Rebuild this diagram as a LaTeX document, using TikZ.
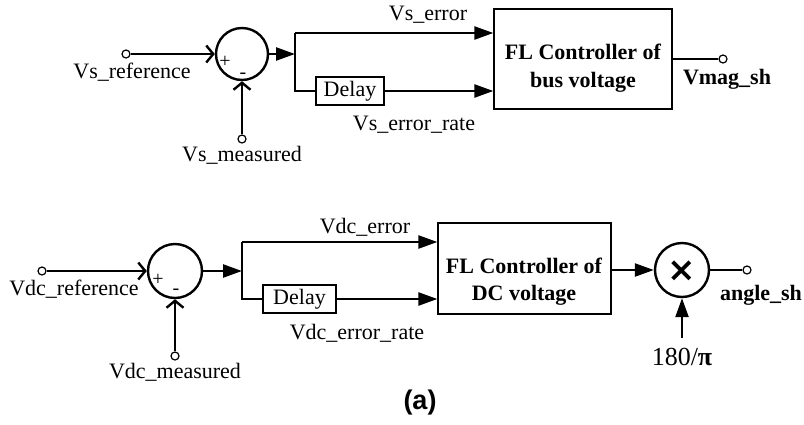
\documentclass[tikz,border=0pt]{standalone}
\usepackage{fontspec}
\setmainfont{Liberation Serif}
\setsansfont{Liberation Sans}
\newfontfamily\symfont{DejaVu Sans}
\usetikzlibrary{arrows.meta}
\begin{document}
\begin{tikzpicture}[x=1pt,y=-1pt,
  wire/.style={line width=2.4pt},
  arr/.style={wire,-{Triangle[length=19pt,width=13pt]}},
  barb/.style={wire,-{Straight Barb[length=7pt,width=17pt,line width=2.4pt]}},
  sumc/.style={circle,draw,line width=2.4pt,inner sep=0pt},
  blk/.style={draw,line width=1.3pt,inner sep=0pt},
  term/.style={circle,draw,line width=1.2pt,fill=white,inner sep=0pt,minimum size=8pt},
  txt/.style={font=\fontsize{22}{26}\selectfont,inner sep=0pt},
  btxt/.style={font=\fontsize{22}{26}\selectfont\bfseries,inner sep=0pt},
  sgn/.style={font=\fontsize{20}{22}\selectfont,inner sep=0pt}]
\useasboundingbox (0,0) rectangle (804,424);
% ---------- top row ----------
\node[sumc,minimum size=52pt] (sum1) at (242,54) {};
\node[blk,minimum width=178pt,minimum height=100pt] (fl1) at (583,59) {};
\node[blk,minimum width=68pt,minimum height=28pt,txt] (del1) at (350,91) {Delay};
\coordinate (sp1) at (295,54);
\coordinate (sp1t) at (295,33);
\coordinate (sp1b) at (295,91);
\node[term] (ref1) at (126,54) {};
\node[term] (meas1) at (242,139) {};
\node[term] (out1) at (723,59) {};
\draw[barb] (ref1) -- (sum1.west);
\draw[barb] (meas1) -- (sum1.south);
\draw[arr] (sum1.east) -- (sp1);
\draw[wire] (sp1t) -- (sp1b) -- (del1.west);
\draw[arr] (sp1t) -- (fl1.west |- sp1t);
\draw[arr] (del1.east) -- (fl1.west |- del1.east);
\draw[wire] (fl1.east) -- (out1.west);
\node[sgn] (p1) at (225,62) {+};
\node[sgn] (m1) at (243,76) {-};
\node[txt] (l1) at (132,72) {Vs\_reference};
\node[txt] (l2) at (242,155) {Vs\_measured};
\node[txt] (l3) at (428,15) {Vs\_error};
\node[txt] (l4) at (414,125) {Vs\_error\_rate};
\node[btxt,anchor=base] (f1a) at (583,59.5) {FL Controller of};
\node[btxt,anchor=base] (f1b) at (583,87) {bus voltage};
\node[btxt] (l5) at (727,79) {Vmag\_sh};
% ---------- bottom row ----------
\node[sumc,minimum size=54pt] (sum2) at (175,271) {};
\node[blk,minimum width=173pt,minimum height=91pt] (fl2) at (524.5,268.5) {};
\node[blk,minimum width=73pt,minimum height=28pt,txt] (del2) at (299.5,299) {Delay};
\node[sumc,minimum size=54pt] (mult) at (682,270) {};
\coordinate (sp2) at (242,271);
\coordinate (sp2t) at (242,242);
\coordinate (sp2b) at (242,299);
\coordinate (k1) at (682,338);
\node[term] (ref2) at (42,271) {};
\node[term] (meas2) at (175,356) {};
\node[term] (out2) at (747,270) {};
\draw[barb] (ref2) -- (sum2.west);
\draw[barb] (meas2) -- (sum2.south);
\draw[arr] (sum2.east) -- (sp2);
\draw[wire] (sp2t) -- (sp2b) -- (del2.west);
\draw[arr] (sp2t) -- (fl2.west |- sp2t);
\draw[arr] (del2.east) -- (fl2.west |- del2.east);
\draw[arr] (fl2.east |- mult.west) -- (mult.west);
\draw[arr] (k1) -- (mult.south);
\draw[wire] (mult.east) -- (out2.west);
\node[inner sep=0pt,font=\symfont\bfseries\fontsize{34}{34}\selectfont] (x1) at (682,271) {×};
\node[sgn] (p2) at (158,280) {+};
\node[sgn] (m2) at (176,292) {-};
\node[txt] (l6) at (74,289) {Vdc\_reference};
\node[txt] (l7) at (175,372) {Vdc\_measured};
\node[txt] (l8) at (365,227) {Vdc\_error};
\node[txt] (l9) at (357,333) {Vdc\_error\_rate};
\node[btxt,anchor=base] (f2a) at (524,273) {FL Controller of};
\node[btxt,anchor=base] (f2b) at (524,300) {DC voltage};
\node[btxt] (l10) at (761,295) {angle\_sh};
\node[inner sep=0pt,font=\fontsize{26}{28}\selectfont] (l11) at (682,357) {180/\textbf{π}};
\node[inner sep=0pt,font=\sffamily\bfseries\fontsize{27}{30}\selectfont] (cap) at (420,403) {(a)};
\end{tikzpicture}
\end{document}
